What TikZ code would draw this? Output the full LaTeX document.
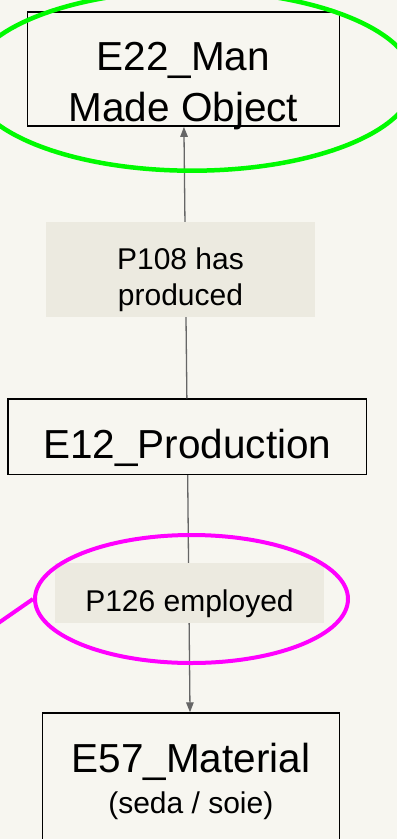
\documentclass[tikz,border=0pt]{standalone}
\usepackage{fontspec}
\setmainfont{Liberation Sans}
\usetikzlibrary{arrows.meta,shapes.geometric}

\definecolor{paper}{RGB}{247,246,240}
\definecolor{propfill}{RGB}{236,234,224}
\definecolor{linkgray}{RGB}{102,102,102}
\definecolor{hlgreen}{RGB}{0,250,0}
\definecolor{hlmagenta}{RGB}{255,0,255}

\begin{document}
\begin{tikzpicture}[x=1pt, y=-1pt,
  entity/.style={draw=black, line width=1.4pt, fill=paper, inner sep=0pt, align=center,
                 font={\fontsize{40.5}{51}\selectfont}},
  prop/.style={fill=propfill, inner sep=0pt, align=center,
               font={\fontsize{30}{35.7}\selectfont}},
  link/.style={draw=linkgray, line width=1.3pt, -{Triangle[length=10pt,width=7.5pt]}},
  ring/.style={ellipse, inner sep=0pt, line width=4.5pt}]

  \useasboundingbox (0,0) rectangle (397,839);
  \clip (0,0) rectangle (397,839);
  \fill[paper] (0,0) rectangle (397,839); % page

  % classes
  \node[entity, minimum width=312pt, minimum height=114.3pt, text height=108pt, text depth=2.6pt]
        (e22) at (183.3,69) {E22\_Man\\Made Object};
  \node[entity, minimum width=358.7pt, minimum height=75.3pt, text height=43.2pt, text depth=0pt]
        (e12) at (187.3,436.7) {E12\_Production};
  \node[entity, minimum width=297pt, minimum height=160pt, text height=60pt, text depth=19.4pt,
        font={\fontsize{40.5}{40.6}\selectfont}]
        (e57) at (190.8,793) {E57\_Material\\{\fontsize{30}{35}\selectfont (seda / soie)}};

  % properties
  \draw[link] (e12) -- (e22);
  \draw[link] (e12) -- (e57);
  \node[prop, minimum width=269pt, minimum height=95pt, text height=80pt, text depth=9pt]
        (p108) at (180.5,269.5) {P108 has\\produced};
  \node[prop, minimum width=269pt, minimum height=59.4pt, text height=37.4pt, text depth=0pt]
        (p126) at (189.5,593) {P126 employed};

  % highlights
  \node[ring, draw=hlgreen, minimum width=444pt, minimum height=180pt] (hl22) at (192,80.7) {};
  \node[ring, draw=hlmagenta, line width=4pt, minimum width=313pt, minimum height=128pt] (hl126) at (191.5,599) {};
  \coordinate (off126) at (-20,635.8);
  \draw[hlmagenta, line width=4pt] (hl126.west) -- (off126);
\end{tikzpicture}
\end{document}
